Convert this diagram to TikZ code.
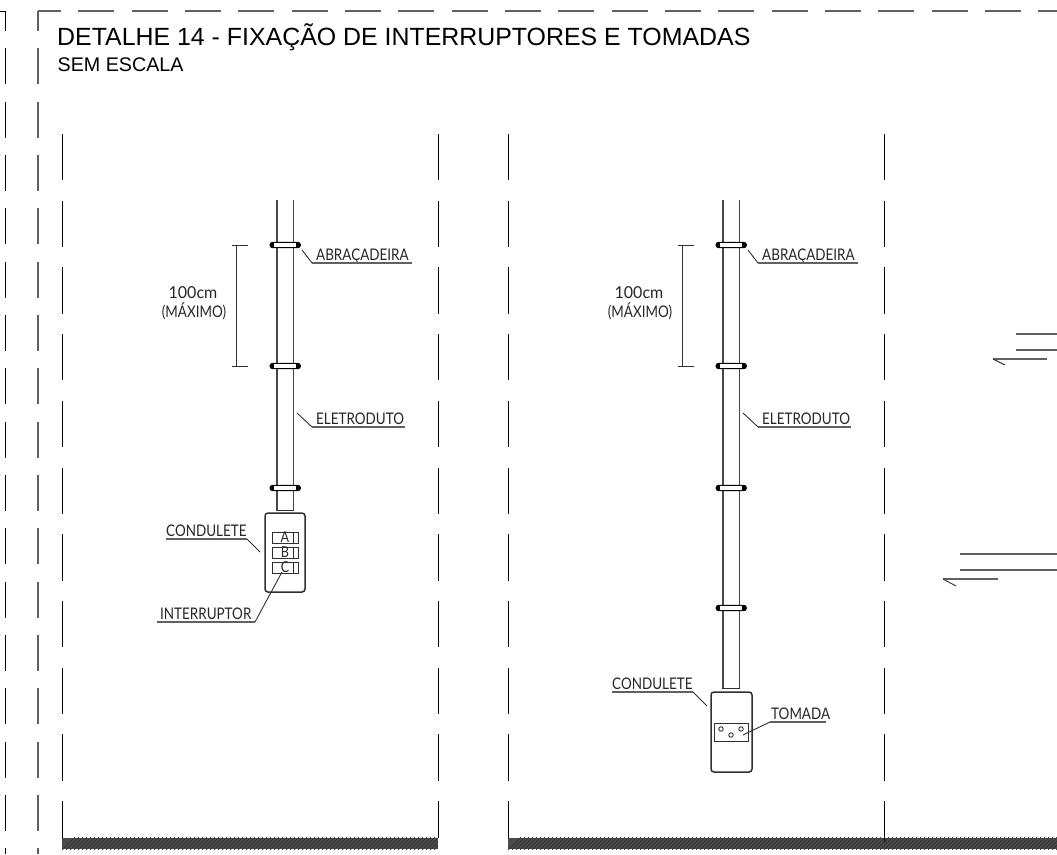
\documentclass[tikz,border=0pt]{standalone}
\usepackage{fontspec}
\setmainfont{Liberation Sans}
\newfontfamily\cadfont[FakeStretch=0.84]{Lato}
\newfontfamily\cadwide[FakeStretch=0.97]{Lato}
\usetikzlibrary{calc}
\definecolor{ink}{HTML}{303030}
\definecolor{groundc}{HTML}{4A4A4A}
\tikzset{
  x=1pt,y=-1pt,
  frameline/.style={draw=black!62,line width=1.1pt},
  wallline/.style={draw=black,line width=0.9pt,dash pattern=on 46.3pt off 20.4pt},
  pipeline/.style={draw=black!72,line width=1.35pt},
  thinline/.style={draw=ink,line width=0.9pt},
  underl/.style={draw=black!62,line width=1.2pt},
  caption/.style={inner sep=0pt,anchor=base west,text=black!85,font=\cadfont\fontsize{16}{16}\selectfont},
  dimtext/.style={inner sep=0pt,anchor=base,align=center,text=black!85,font=\cadfont\fontsize{16}{16}\selectfont},
  dimwide/.style={inner sep=0pt,anchor=base,align=center,text=black!85,font=\cadwide\fontsize{16.5}{16.5}\selectfont},
  boxnode/.style={draw=ink,line width=1.5pt,rounded corners=3pt,fill=white,inner sep=0pt},
  cellnode/.style={draw=ink,line width=1pt,fill=white,inner sep=0pt,minimum height=11pt,minimum width=26pt,text=black!85,font=\cadfont\fontsize{15}{15}\selectfont,text depth=0pt},
  plugbox/.style={draw=ink,line width=1pt,fill=white,inner sep=0pt,minimum width=34pt,minimum height=18pt},
  hole/.style={draw=ink,line width=0.9pt,circle,inner sep=0pt,minimum size=4.5pt},
}
\newcommand{\clampat}[2]{%
  \fill[black,rounded corners=3pt] ($(#1-15.7,#2-3.2)$) rectangle ($(#1+15.7,#2+3.2)$);
  \fill[white] ($(#1-11,#2-2)$) rectangle ($(#1+11,#2+2)$);
}
\newcommand{\callout}[9]{%
  \node[caption] (#1) at (#3,#4-2.2) {#2};
  \coordinate (#1-l) at (#5,#4);
  \coordinate (#1-r) at (#6,#4);
  \coordinate (#1-k) at (#7,#4);
  \coordinate (#1-e) at (#8,#9);
  \draw[underl] (#1-l) -- (#1-r);
  \draw[thinline] (#1-k) -- (#1-e);
}
\newcommand{\wallpair}[2]{%
  \coordinate (wa#1) at (#2,134); \coordinate (wb#1) at (#2,838);
  \draw[wallline] (wa#1) -- (wb#1);
}
\newcommand{\groundfill}[2]{%
  \begin{scope}
    \clip (#1,837.5) rectangle (#2,849);
    \fill[groundc] (#1,837.5) rectangle (#2,849);
    \pgfmathtruncatemacro{\qnext}{#1+4}
    \pgfmathtruncatemacro{\qlast}{#2}
    \foreach \q in {#1,\qnext,...,\qlast}{\draw[black!80,line width=0.7pt] (\q,850) -- (\q+13,837);}
  \end{scope}
}
\begin{document}
\begin{tikzpicture}
\useasboundingbox (0,0) rectangle (1057,854);
% outer frame dashes
\coordinate (fa) at (38,11); \coordinate (fb) at (1057,11); \coordinate (fc) at (38,854);
\coordinate (ga) at (5,11); \coordinate (gb) at (5,854); \coordinate (gc) at (0,11);
\draw[frameline,dash pattern=on 36pt off 17.33pt,dash phase=13pt] (fa) -- (fb);
\draw[frameline,dash pattern=on 36pt off 17.33pt,dash phase=16pt] (fa) -- (fc);
\draw[draw=black,line width=0.8pt,dash pattern=on 36pt off 17.33pt,dash phase=16pt] (ga) -- (gb);
\draw[draw=black,line width=0.8pt] (gc) -- (ga);
% title
\node[inner sep=0pt,anchor=base west,font=\fontsize{24.9}{24.9}\selectfont] (title) at (57,45) {DETALHE 14 - FIXAÇÃO DE INTERRUPTORES E TOMADAS};
\node[inner sep=0pt,anchor=base west,font=\fontsize{19.7}{19.7}\selectfont] (sub) at (57.5,71) {SEM ESCALA};
% walls
\wallpair{1}{62}\wallpair{2}{438}\wallpair{3}{508}\wallpair{4}{884.5}
% ground
\groundfill{62}{438}
\groundfill{508}{1057}
\draw[draw=black,line width=0.9pt] (wb4) -- ++(0,4);
% ----- left column
\coordinate (p1t) at (277,200); \coordinate (p1b) at (277,511);
\coordinate (p2t) at (293.5,200); \coordinate (p2b) at (293.5,511);
\draw[pipeline] (p1t) -- (p1b);
\draw[pipeline] (p2t) -- (p2b);
\clampat{285.2}{245}\clampat{285.2}{366}\clampat{285.2}{488}
\node[boxnode,minimum width=40pt,minimum height=79pt] (cond1) at (285,552.5) {};
\coordinate (n1a) at (277,510.5); \coordinate (n1b) at (293.5,510.5);
\draw[thinline] (n1a) -- (n1b);
\node[cellnode] (ca) at (285,537.5) {A};
\node[cellnode] (cb) at (285,552.5) {B};
\node[cellnode] (cc) at (285,567.5) {C};
\foreach \n in {ca,cb,cc}{\draw[thinline] ($(\n.north east)+(-5,0)$) -- ($(\n.south east)+(-5,0)$);}
\callout{ab1}{ABRAÇADEIRA}{316}{263}{312}{412}{312}{302}{250}
\callout{el1}{ELETRODUTO}{316}{427}{312}{405}{312}{297}{413}
\callout{co1}{CONDULETE}{166}{539}{166}{247}{247}{260}{552}
\callout{in1}{INTERRUPTOR}{160}{622}{157}{255}{255}{282}{572}
% dimension
\coordinate (d1a) at (236,245); \coordinate (d1b) at (236,366);
\draw[thinline] (d1a) -- (d1b);
\draw[thinline] ($(d1a)+(-4,0)$) -- ($(d1a)+(12,0)$);
\draw[thinline] ($(d1b)+(-4,0)$) -- ($(d1b)+(12,0)$);
\node[dimwide] (dt1) at (193,298) {100cm};
\node[dimtext] (dm1) at (194,317) {(MÁXIMO)};
% ----- right column
\coordinate (p3t) at (723,200); \coordinate (p3b) at (723,689);
\coordinate (p4t) at (739.5,200); \coordinate (p4b) at (739.5,689);
\draw[pipeline] (p3t) -- (p3b);
\draw[pipeline] (p4t) -- (p4b);
\clampat{731.2}{245}\clampat{731.2}{366}\clampat{731.2}{488}\clampat{731.2}{608}
\node[boxnode,minimum width=41pt,minimum height=80pt] (cond2) at (731.5,732) {};
\coordinate (n2a) at (722,688.5); \coordinate (n2b) at (740,688.5);
\draw[thinline] (n2a) -- (n2b);
\node[plugbox] (plug) at (731,732) {};
\node[hole] (h1) at (721,729) {};
\node[hole] (h2) at (731,735) {};
\node[hole] (h3) at (741,729) {};
\callout{ab2}{ABRAÇADEIRA}{762}{263}{758}{858}{758}{748}{250}
\callout{el2}{ELETRODUTO}{762}{427}{758}{851}{758}{743}{413}
\callout{co2}{CONDULETE}{612}{692}{612}{693}{693}{707}{706}
\callout{to2}{TOMADA}{771}{722}{770}{826}{770}{743}{735}
\coordinate (d2a) at (682,245); \coordinate (d2b) at (682,366);
\draw[thinline] (d2a) -- (d2b);
\draw[thinline] ($(d2a)+(-4,0)$) -- ($(d2a)+(12,0)$);
\draw[thinline] ($(d2b)+(-4,0)$) -- ($(d2b)+(12,0)$);
\node[dimwide] (dt2) at (639,298) {100cm};
\node[dimtext] (dm2) at (640,317) {(MÁXIMO)};
% ----- right edge fragments
\coordinate (r1a) at (1016,334); \coordinate (r1b) at (1057,334);
\coordinate (r2a) at (1016,350); \coordinate (r2b) at (1057,350);
\coordinate (r3a) at (1047,359); \coordinate (r3b) at (993,359); \coordinate (r3c) at (1005,365);
\coordinate (r4a) at (960,554); \coordinate (r4b) at (1057,554);
\coordinate (r5a) at (960,570); \coordinate (r5b) at (1057,570);
\coordinate (r6a) at (998,579); \coordinate (r6b) at (943,579); \coordinate (r6c) at (956,586);
\draw[underl] (r1a) -- (r1b);
\draw[underl] (r2a) -- (r2b);
\draw[underl] (r3a) -- (r3b);
\draw[thinline] (r3b) -- (r3c);
\draw[underl] (r4a) -- (r4b);
\draw[underl] (r5a) -- (r5b);
\draw[underl] (r6a) -- (r6b);
\draw[thinline] (r6b) -- (r6c);
\end{tikzpicture}
\end{document}
